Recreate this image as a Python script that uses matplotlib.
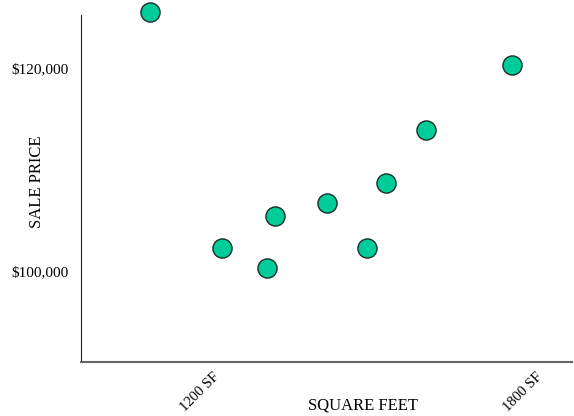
import matplotlib
matplotlib.use("Agg")
import matplotlib.pyplot as plt

sqft = [1107, 1240, 1325, 1340, 1435, 1510, 1545, 1620, 1780]
price = [125500, 102250, 100300, 105400, 106700, 102250, 108650, 113900, 120300]
x_ticks = [1200, 1800]
x_labels = ["1200 SF", "1800 SF"]
y_ticks = [100000, 120000]
y_labels = ["$100,000", "$120,000"]

plt.rcParams['font.family'] = ['Liberation Serif', 'DejaVu Serif']

fig = plt.figure(figsize=(5.74, 4.16), dpi=100)
ax = fig.add_axes([81/574, 54/416, 491/574, 347/416])

ax.scatter(sqft, price, s=190, color="#00CC99", edgecolor="#1b2e28",
           linewidth=1.0, zorder=3, clip_on=False)

ax.set_xlim(979, 1891)
ax.set_ylim(91034, 125222)

ax.set_xticks(x_ticks)
ax.set_xticklabels(x_labels, rotation=45, ha="center", fontsize=10.5)
ax.set_yticks(y_ticks)
ax.set_yticklabels(y_labels, fontsize=11)
ax.tick_params(length=0, pad=9)
ax.tick_params(axis="x", pad=6)

ax.spines["top"].set_visible(False)
ax.spines["right"].set_visible(False)
ax.spines["left"].set_color("#222222")
ax.spines["bottom"].set_color("#666666")
ax.spines["bottom"].set_linewidth(1.5)

ax.set_xlabel("SQUARE FEET", fontsize=12)
ax.xaxis.set_label_coords((363 - 81) / 491, -(405 - 362) / 347)
ax.xaxis.label.set_va("center")
ax.set_ylabel("SALE PRICE", fontsize=12)
ax.yaxis.set_label_coords(-(81 - 37) / 491, (362 - 182) / 347)
ax.yaxis.label.set_va("center")

fig.savefig("out.png", dpi=100)
